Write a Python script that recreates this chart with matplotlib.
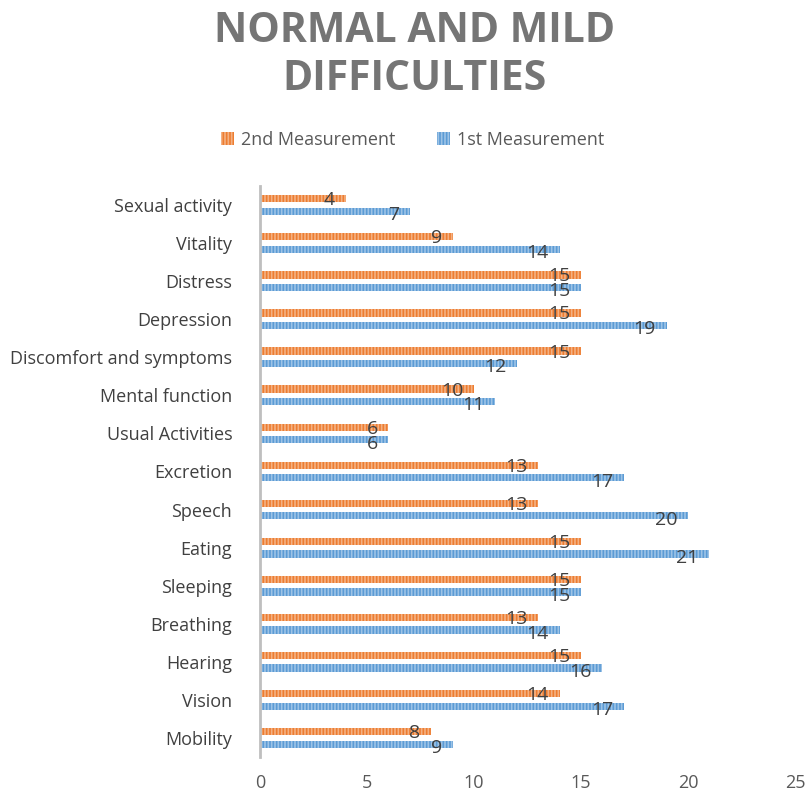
import numpy as np
import matplotlib.pyplot as plt

categories = ['Mobility', 'Vision', 'Hearing', 'Breathing', 'Sleeping', 'Eating',
              'Speech', 'Excretion', 'Usual Activities', 'Mental function',
              'Discomfort and symptoms', 'Depression', 'Distress', 'Vitality',
              'Sexual activity']
second = [8, 14, 15, 13, 15, 15, 13, 13, 6, 10, 15, 15, 15, 9, 4]
first = [9, 17, 16, 14, 15, 21, 20, 17, 6, 11, 12, 19, 15, 14, 7]

plt.rcParams['font.family'] = ['Open Sans', 'DejaVu Sans']
plt.rcParams['hatch.linewidth'] = 1.2

fig = plt.figure(figsize=(8.09, 7.92), dpi=100)
ax = fig.add_axes([260/809, 1-757/792, 535/809, 571/792])

y = np.arange(len(categories))
h = 0.19
off = 0.165
orange = '#ED7D31'
blue = '#5B9BD5'
ax.barh(y - off, first, height=h, color=blue, edgecolor='#9DC3E6', lw=0, hatch='|||||', label='1st Measurement')
ax.barh(y + off, second, height=h, color=orange, edgecolor='#F4B183', lw=0, hatch='|||||', label='2nd Measurement')

for i in range(len(categories)):
    ax.text(second[i] - 0.5, y[i] + off - 0.04, str(second[i]), ha='right', va='center',
            fontsize=14, color='#404040')
    ax.text(first[i] - 0.5, y[i] - off - 0.1, str(first[i]), ha='right', va='center',
            fontsize=14, color='#404040')

ax.set_xlim(0, 25)
ax.set_ylim(-0.5, len(categories) - 0.5)
ax.set_yticks(y)
ax.set_yticklabels(categories, fontsize=13, color='#404040')
ax.set_xticks([0, 5, 10, 15, 20, 25])
ax.tick_params(axis='x', labelsize=13, labelcolor='#595959', length=0, pad=12)
ax.tick_params(axis='y', length=0, pad=20)
for s in ['top', 'right', 'bottom']:
    ax.spines[s].set_visible(False)
ax.spines['left'].set_color('#BFBFBF')
ax.spines['left'].set_linewidth(2)

fig.text(0.512, 0.93, 'NORMAL AND MILD\nDIFFICULTIES', ha='center', va='center',
         fontsize=29.5, fontweight='bold', color='#757575', linespacing=1.25)

handles, labels = ax.get_legend_handles_labels()
fig.legend(handles[::-1], labels[::-1], loc='center', bbox_to_anchor=(0.51, 1-140/792),
           ncol=2, frameon=False, fontsize=13, labelcolor='#595959',
           handlelength=0.7, handleheight=0.7, columnspacing=2.3, handletextpad=0.4)

fig.savefig('out.png', dpi=100)
